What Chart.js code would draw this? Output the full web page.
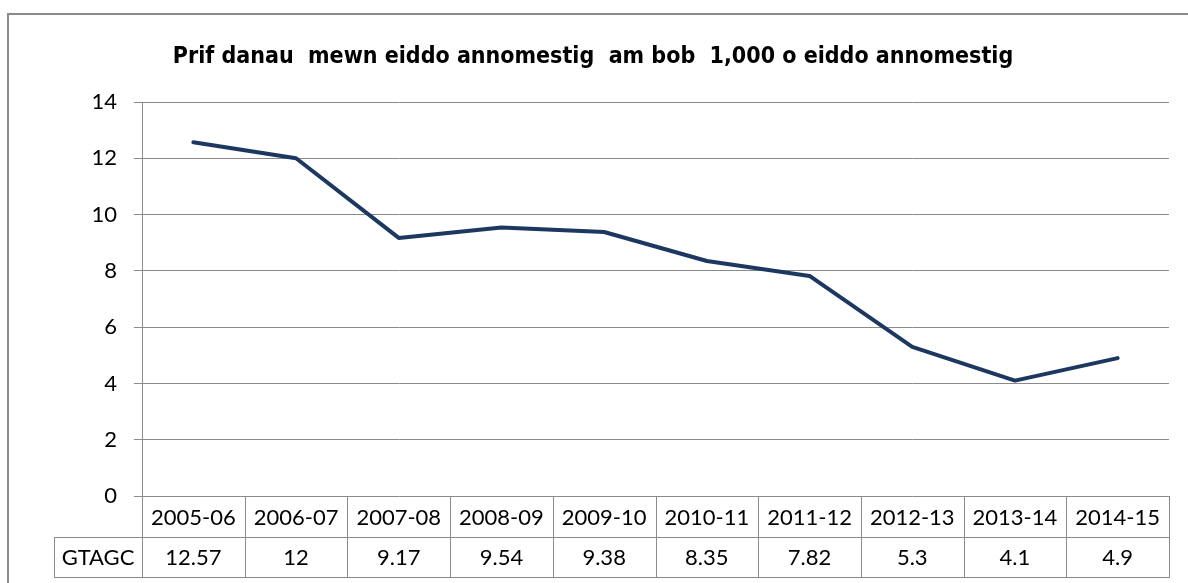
<!DOCTYPE html>
<html><head><meta charset="utf-8">
<script src="https://cdn.jsdelivr.net/npm/chart.js@4"></script>
<style>html,body{margin:0;padding:0;background:#fff;overflow:hidden}#wrap{width:1188px;height:583px;position:relative}canvas{display:block}</style>
</head><body><div id="wrap"><canvas id="c" width="1188" height="583" style="width:1188px;height:583px"></canvas></div>
<script>
const chartTitle = "Prif danau  mewn eiddo annomestig  am bob  1,000 o eiddo annomestig";
const categories = ["2005-06","2006-07","2007-08","2008-09","2009-10","2010-11","2011-12","2012-13","2013-14","2014-15"];
const seriesName = "GTAGC";
const values = [12.57, 12, 9.17, 9.54, 9.38, 8.35, 7.82, 5.3, 4.1, 4.9];
const yTicks = [0, 2, 4, 6, 8, 10, 12, 14];

const FONT = "Lato, 'Open Sans', sans-serif";
const TITLE_FONT = "'DejaVu Sans Condensed', 'Open Sans', sans-serif";
const GRID = "#8a8a8a";
const LINE = "#1c3760";

const framePlugin = {
  id: 'frame',
  beforeDraw(chart) {
    const ctx = chart.ctx;
    ctx.save();
    ctx.fillStyle = '#fff';
    ctx.fillRect(0, 0, chart.width, chart.height);
    ctx.strokeStyle = GRID;
    ctx.lineWidth = 2;
    ctx.strokeRect(8, 14, chart.width + 20, chart.height + 20);
    ctx.fillStyle = '#000';
    ctx.font = "bold 23px " + TITLE_FONT;
    ctx.textAlign = 'center';
    ctx.textBaseline = 'middle';
    ctx.fillText(chartTitle, 593, 57);
    ctx.restore();
  }
};

const tablePlugin = {
  id: 'datatable',
  afterDraw(chart) {
    const ctx = chart.ctx, x = chart.scales.x, area = chart.chartArea;
    const n = categories.length;
    const w = (x.getPixelForValue(n - 1) - x.getPixelForValue(0)) / (n - 1);
    const b = [];
    for (let i = 0; i <= n; i++) b.push(x.getPixelForValue(0) - w / 2 + i * w);
    const y0 = area.bottom, y1 = y0 + 41, y2 = y0 + 81, lx = 54;
    ctx.save();
    ctx.strokeStyle = GRID;
    ctx.lineWidth = 1;
    ctx.beginPath();
    for (let i = 0; i <= n; i++) {
      const px = Math.round(b[i]) + 0.5;
      ctx.moveTo(px, y0); ctx.lineTo(px, y2);
    }
    ctx.moveTo(lx + 0.5, y1); ctx.lineTo(lx + 0.5, y2);
    ctx.moveTo(lx, y1 + 0.5); ctx.lineTo(Math.round(b[n]) + 1, y1 + 0.5);
    ctx.moveTo(lx, y2 + 0.5); ctx.lineTo(Math.round(b[n]) + 1, y2 + 0.5);
    ctx.stroke();
    ctx.fillStyle = '#000';
    ctx.font = "22px " + FONT;
    ctx.textAlign = 'center';
    ctx.textBaseline = 'middle';
    for (let i = 0; i < n; i++) {
      const cx = b[i] + w / 2;
      ctx.fillText(categories[i], cx, (y0 + y1) / 2 + 1);
      ctx.fillText(String(values[i]), cx, (y1 + y2) / 2 + 1);
    }
    ctx.fillText(seriesName, (lx + b[0]) / 2, (y1 + y2) / 2 + 1);
    ctx.restore();
  }
};

new Chart(document.getElementById('c'), {
  type: 'line',
  data: {
    labels: categories,
    datasets: [{
      label: seriesName,
      data: values,
      borderColor: LINE,
      borderWidth: 4,
      pointRadius: 0,
      tension: 0,
      borderCapStyle: 'round',
      borderJoinStyle: 'round',
      fill: false
    }]
  },
  options: {
    responsive: false,
    animation: false,
    devicePixelRatio: 1,
    layout: { padding: { top: 102, bottom: 87, right: 19, left: 0 } },
    plugins: { legend: { display: false }, title: { display: false }, tooltip: { enabled: false } },
    scales: {
      x: { display: false, offset: true },
      y: {
        min: 0, max: 14,
        afterBuildTicks(scale) { scale.ticks = yTicks.map(v => ({ value: v })); },
        afterFit(scale) { scale.width = 142; },
        ticks: { color: '#000', font: { family: FONT, size: 22 }, padding: 17 },
        grid: { color: GRID, lineWidth: 1, tickLength: 8 },
        border: { color: GRID, width: 1 }
      }
    }
  },
  plugins: [framePlugin, tablePlugin]
});
</script>
</body></html>
